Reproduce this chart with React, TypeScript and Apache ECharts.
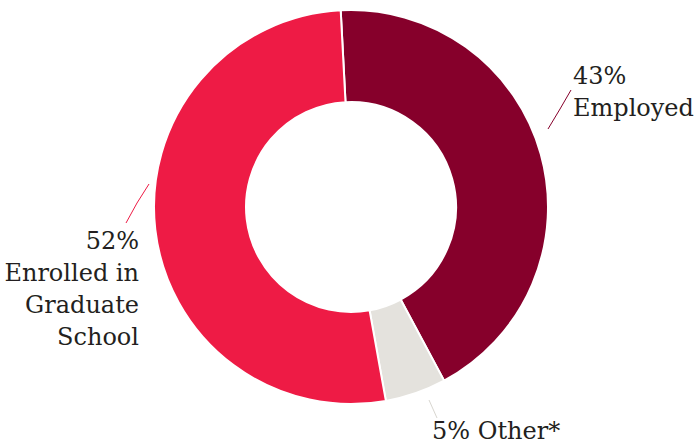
import React, { useEffect, useRef } from "react";
import * as echarts from "echarts";

const categories = ["Employed", "Other*", "Enrolled in\nGraduate\nSchool"];
const values = [43, 5, 52];
const percentLabels = ["43%", "5%", "52%"];
const colors = ["#86002B", "#E4E2DD", "#EE1B45"];
const lineColors = ["#86002B", "#D8D6D0", "#EE1B45"];

// label anchor positions (x, y) and alignment, plus decorative leader slashes
const labelAnchors: [number, number][] = [[573, 92], [432, 431], [139, 289]];
const labelAligns = ["left", "left", "right"];
const leaderLines: [number, number][][] = [
  [[548, 129], [560, 109], [571, 90]],
  [[429, 400], [433, 409], [437, 418]],
  [[149, 184], [137, 203], [126, 223]],
];

export default function App() {
  const ref = useRef<HTMLDivElement>(null);
  useEffect(() => {
    if (!ref.current) return;
    const chart = echarts.init(ref.current, null, { renderer: "svg" });
    chart.setOption({
      animation: false,
      backgroundColor: "#ffffff",
      series: [
        {
          type: "pie",
          center: [351, 207],
          radius: [105, 197],
          startAngle: 93,
          clockwise: true,
          avoidLabelOverlap: false,
          itemStyle: { borderColor: "#ffffff", borderWidth: 2 },
          label: {
            show: true,
            position: "outside",
            fontFamily: "DejaVu Serif",
            fontSize: 24,
            lineHeight: 32,
            color: "#231F20",
            formatter: (p: any) =>
              p.dataIndex === 1
                ? `${percentLabels[p.dataIndex]} ${p.name}`
                : `${percentLabels[p.dataIndex]}\n${p.name}`,
          },
          labelLine: { show: true, lineStyle: { width: 1 } },
          labelLayout: (params: any) => {
            const i = params.dataIndex;
            return {
              x: labelAnchors[i][0],
              y: labelAnchors[i][1],
              align: labelAligns[i],
              verticalAlign: "middle",
              labelLinePoints: leaderLines[i],
            };
          },
          data: categories.map((name, i) => ({
            name,
            value: values[i],
            itemStyle: { color: colors[i] },
            label: { align: labelAligns[i] },
            labelLine: { lineStyle: { color: lineColors[i], width: 1 } },
          })),
        },
      ],
    });
    return () => chart.dispose();
  }, []);
  return (
    <div
      ref={ref}
      style={{ position: "fixed", left: 0, top: 0, width: 699, height: 447 }}
    />
  );
}
